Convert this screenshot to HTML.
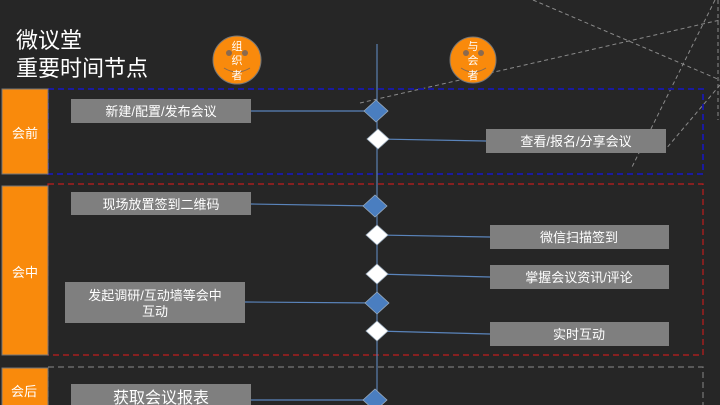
<!DOCTYPE html>
<html><head><meta charset="utf-8"><style>
html,body{margin:0;padding:0;background:#262626;}
svg{display:block;}
text{font-family:"Liberation Sans","Noto Sans CJK SC",sans-serif;}
</style></head><body>
<svg width="720" height="405" viewBox="0 0 720 405" xmlns="http://www.w3.org/2000/svg">
<rect width="720" height="405" fill="#262626"/>
<g stroke="#8a8a8a" stroke-width="1" stroke-dasharray="4,3" fill="none">
<line x1="533" y1="0" x2="720" y2="80"/>
<line x1="360" y1="103" x2="720" y2="20"/>
<line x1="715" y1="0" x2="632" y2="167"/>
<line x1="718" y1="0" x2="718" y2="120"/>
<line x1="720" y1="85" x2="665" y2="150"/>
</g>
<text x="16" y="48" font-size="22" fill="#fff">微议堂</text>
<text x="16" y="76" font-size="22" fill="#fff">重要时间节点</text>
<!-- circles -->
<circle cx="237" cy="60" r="24" fill="#f98a0c" stroke="#777" stroke-width="1"/>
<circle cx="229" cy="53" r="3" fill="#8a6a50"/><circle cx="245" cy="53" r="3" fill="#8a6a50"/>
<path d="M224 68 Q237 76 250 68" stroke="#8a6a50" fill="none"/>
<text x="237" y="50" font-size="11" fill="#fff" text-anchor="middle">组</text>
<text x="237" y="64" font-size="11" fill="#fff" text-anchor="middle">织</text>
<text x="237" y="79" font-size="11" fill="#fff" text-anchor="middle">者</text>
<circle cx="473" cy="60" r="23" fill="#f98a0c" stroke="#777" stroke-width="1"/>
<circle cx="466" cy="53" r="3" fill="#8a6a50"/><circle cx="481" cy="53" r="3" fill="#8a6a50"/>
<path d="M461 68 Q473 76 486 68" stroke="#8a6a50" fill="none"/>
<text x="473" y="50" font-size="11" fill="#fff" text-anchor="middle">与</text>
<text x="473" y="64" font-size="11" fill="#fff" text-anchor="middle">会</text>
<text x="473" y="79" font-size="11" fill="#fff" text-anchor="middle">者</text>
<!-- dashed sections -->
<rect x="48" y="89" width="655" height="85" fill="none" stroke="#1a1aa0" stroke-width="2" stroke-dasharray="6,4"/>
<rect x="48" y="184" width="655" height="171" fill="none" stroke="#c01c1c" stroke-width="1.2" stroke-dasharray="6,4"/>
<rect x="48" y="367" width="655" height="50" fill="none" stroke="#777" stroke-width="1.2" stroke-dasharray="6,4"/>
<!-- orange bars -->
<rect x="2" y="89" width="46" height="85" fill="#f98a0c" stroke="#777"/>
<rect x="2" y="186" width="46" height="169" fill="#f98a0c" stroke="#777"/>
<rect x="2" y="368" width="46" height="40" fill="#f98a0c" stroke="#777"/>
<text x="25" y="138" font-size="13" fill="#fff" text-anchor="middle">会前</text>
<text x="25" y="277" font-size="13" fill="#fff" text-anchor="middle">会中</text>
<text x="24" y="396" font-size="13" fill="#fff" text-anchor="middle">会后</text>
<!-- vertical -->
<line x1="377" y1="44" x2="377" y2="405" stroke="#5a7fb0" stroke-width="1.2"/>
<!-- connectors -->
<g stroke="#5a84bb" stroke-width="1.2">
<line x1="251" y1="111" x2="376" y2="111"/>
<line x1="378" y1="139" x2="486" y2="141"/>
<line x1="251" y1="204" x2="375" y2="206"/>
<line x1="377" y1="235" x2="490" y2="237"/>
<line x1="377" y1="274" x2="490" y2="277"/>
<line x1="245" y1="302" x2="377" y2="303"/>
<line x1="377" y1="331" x2="490" y2="334"/>
<line x1="251" y1="400" x2="375" y2="400"/>
</g>
<!-- boxes -->
<g fill="#7f7f7f">
<rect x="71" y="99" width="180" height="24"/>
<rect x="486" y="129" width="180" height="24"/>
<rect x="71" y="192" width="180" height="23"/>
<rect x="490" y="225" width="179" height="24"/>
<rect x="490" y="265" width="179" height="24"/>
<rect x="65" y="282" width="180" height="41"/>
<rect x="490" y="322" width="179" height="24"/>
<rect x="71" y="384" width="180" height="30"/>
</g>
<g fill="#fff" font-size="13" text-anchor="middle">
<text x="161" y="116">新建/配置/发布会议</text>
<text x="576" y="146">查看/报名/分享会议</text>
<text x="161" y="209">现场放置签到二维码</text>
<text x="579" y="242">微信扫描签到</text>
<text x="579" y="282">掌握会议资讯/评论</text>
<text x="155" y="300">发起调研/互动墙等会中</text>
<text x="155" y="316">互动</text>
<text x="579" y="339">实时互动</text>
<text x="161" y="403" font-size="16" font-family="Liberation Serif,'Noto Serif CJK SC',serif">获取会议报表</text>
</g>
<!-- diamonds -->
<g stroke="#9ab" stroke-width="0.8">
<path d="M376 100 L388 111 L376 122 L364 111Z" fill="#4a7ec0"/>
<path d="M378 129 L389 139 L378 149 L367 139Z" fill="#fff"/>
<path d="M375 195 L387 206 L375 217 L363 206Z" fill="#4a7ec0"/>
<path d="M377 225 L388 235 L377 245 L366 235Z" fill="#fff"/>
<path d="M377 264 L388 274 L377 284 L366 274Z" fill="#fff"/>
<path d="M377 292 L389 303 L377 314 L365 303Z" fill="#4a7ec0"/>
<path d="M377 321 L388 331 L377 341 L366 331Z" fill="#fff"/>
<path d="M375 389 L387 400 L375 411 L363 400Z" fill="#4a7ec0"/>
</g>
</svg>
</body></html>
